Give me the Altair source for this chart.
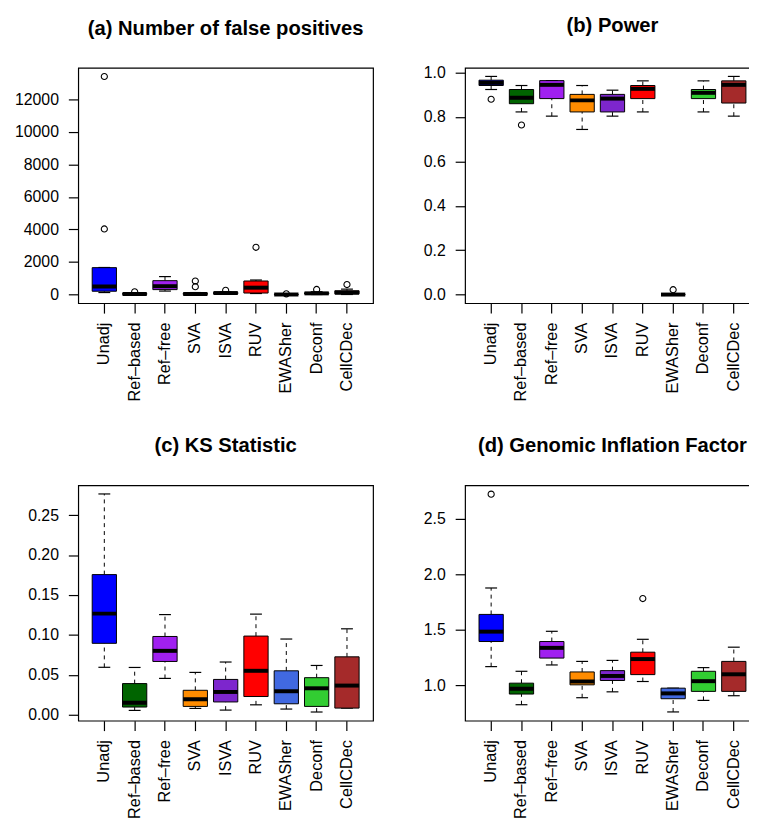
import altair as alt
import pandas as pd

methods = ["Unadj", "Ref–based", "Ref–free", "SVA", "ISVA", "RUV", "EWASher", "Deconf", "CellCDec"]
colors = ["#0000FF", "#006400", "#A020F0", "#FF8C00", "#7D26CD", "#FF0000", "#4169E1", "#32CD32", "#A52A2A"]

# (a) Number of false positives
fp_low = [120, 0, 210, 0, 40, 60, 0, 0, 0]
fp_q1 = [200, 10, 300, 10, 40, 90, 0, 30, 40]
fp_med = [490, 30, 510, 30, 90, 420, 0, 70, 110]
fp_q3 = [1650, 60, 850, 70, 130, 830, 10, 110, 230]
fp_high = [1660, 100, 1100, 120, 160, 890, 20, 170, 330]
fp_out_m = ["Unadj", "Unadj", "Ref–based", "SVA", "SVA", "ISVA", "RUV", "EWASher", "Deconf", "CellCDec"]
fp_out_v = [4030, 13400, 170, 830, 480, 260, 2900, 40, 310, 610]

# (b) Power
pw_low = [0.924, 0.823, 0.804, 0.744, 0.804, 0.823, 0.0, 0.823, 0.804]
pw_q1 = [0.942, 0.860, 0.883, 0.823, 0.823, 0.883, 0.0, 0.883, 0.863]
pw_med = [0.954, 0.887, 0.945, 0.875, 0.883, 0.927, 0.0, 0.909, 0.945]
pw_q3 = [0.966, 0.924, 0.964, 0.902, 0.902, 0.942, 0.0, 0.924, 0.963]
pw_high = [0.983, 0.942, 0.964, 0.942, 0.921, 0.963, 0.0, 0.963, 0.983]
pw_out_m = ["Unadj", "Ref–based", "EWASher"]
pw_out_v = [0.880, 0.764, 0.022]

# (c) KS Statistic
ks_low = [0.0594, 0.0054, 0.0455, 0.0079, 0.0058, 0.0124, 0.0071, 0.0034, 0.0083]
ks_q1 = [0.0894, 0.0096, 0.0667, 0.0104, 0.0160, 0.0228, 0.0137, 0.0104, 0.0083]
ks_med = [0.1266, 0.0149, 0.0800, 0.0195, 0.0285, 0.0550, 0.0294, 0.0331, 0.0365]
ks_q3 = [0.1755, 0.0390, 0.0980, 0.0306, 0.0442, 0.0985, 0.0550, 0.0464, 0.0725]
ks_high = [0.2765, 0.0592, 0.1254, 0.0530, 0.0660, 0.1260, 0.0948, 0.0617, 0.1076]
ks_out_m = []
ks_out_v = []

# (d) Genomic Inflation Factor
gif_low = [1.167, 0.824, 1.182, 0.887, 0.940, 1.033, 0.759, 0.863, 0.905]
gif_q1 = [1.393, 0.920, 1.244, 1.003, 1.042, 1.095, 0.878, 0.944, 0.944]
gif_med = [1.482, 0.967, 1.336, 1.033, 1.083, 1.235, 0.926, 1.036, 1.098]
gif_q3 = [1.637, 1.018, 1.393, 1.119, 1.131, 1.297, 0.973, 1.125, 1.214]
gif_high = [1.875, 1.125, 1.485, 1.214, 1.223, 1.413, 0.973, 1.158, 1.342]
gif_out_m = ["Unadj", "RUV"]
gif_out_v = [2.72, 1.78]

FONT = "Liberation Sans, Arial, Helvetica, sans-serif"
W, H = 298, 238


def panel(title, low, q1, med, q3, high, out_m, out_v, domain, ticks, fmt):
    df = pd.DataFrame({"method": methods, "low": low, "q1": q1, "med": med,
                       "q3": q3, "high": high})
    odf = pd.DataFrame({"method": out_m, "v": out_v})
    xs = alt.Scale(type="band", domain=methods, paddingInner=0, paddingOuter=0.36)
    ys = alt.Scale(domain=domain, nice=False, zero=False)
    xax = alt.Axis(title=None, labelAngle=-90, labelAlign="right", labelBaseline="middle")
    yax = alt.Axis(title=None, values=ticks, format=fmt, labelAngle=0)
    x = alt.X("method:N", scale=xs, axis=xax, sort=methods)
    col = alt.Color("method:N", scale=alt.Scale(domain=methods, range=colors), legend=None)
    base = alt.Chart(df)
    wl = base.mark_rule(color="black", strokeWidth=1, strokeDash=[4, 4]).encode(
        x=x, y=alt.Y("low:Q", scale=ys, axis=yax), y2="q1:Q")
    wh = base.mark_rule(color="black", strokeWidth=1, strokeDash=[4, 4]).encode(
        x=x, y=alt.Y("q3:Q", scale=ys, axis=yax), y2="high:Q")
    cl = base.mark_tick(color="black", size=12, thickness=1.2, opacity=1).encode(
        x=x, y=alt.Y("low:Q", scale=ys, axis=yax))
    ch = base.mark_tick(color="black", size=12, thickness=1.2, opacity=1).encode(
        x=x, y=alt.Y("high:Q", scale=ys, axis=yax))
    box = base.mark_bar(width=alt.RelativeBandSize(0.8), stroke="black", strokeWidth=1,
                        opacity=1).encode(
        x=x, y=alt.Y("q1:Q", scale=ys, axis=yax), y2="q3:Q", color=col)
    md = base.mark_tick(color="black", size=24.5, thickness=4, opacity=1).encode(
        x=x, y=alt.Y("med:Q", scale=ys, axis=yax))
    layers = [wl, wh, cl, ch, box, md]
    if len(out_m):
        pts = alt.Chart(odf).mark_point(shape="circle", size=38, filled=False,
                                        color="black", strokeWidth=1.1, opacity=1).encode(
            x=alt.X("method:N", scale=xs, axis=xax, sort=methods),
            y=alt.Y("v:Q", scale=ys, axis=yax))
        layers.append(pts)
    return alt.layer(*layers).properties(
        width=W, height=H,
        title=alt.TitleParams(title, frame="group", baseline="alphabetic", offset=13))


pa = panel("(a) Number of false positives", fp_low, fp_q1, fp_med, fp_q3, fp_high,
           fp_out_m, fp_out_v, [-536, 13936], [0, 2000, 4000, 6000, 8000, 10000, 12000], "d")
pb = panel("(b) Power", pw_low, pw_q1, pw_med, pw_q3, pw_high,
           pw_out_m, pw_out_v, [-0.039, 1.022], [0, 0.2, 0.4, 0.6, 0.8, 1.0], ".1f")
pc = panel("(c) KS Statistic", ks_low, ks_q1, ks_med, ks_q3, ks_high,
           ks_out_m, ks_out_v, [-0.0075, 0.2874], [0, 0.05, 0.10, 0.15, 0.20, 0.25], ".2f")
pd_ = panel("(d) Genomic Inflation Factor", gif_low, gif_q1, gif_med, gif_q3, gif_high,
            gif_out_m, gif_out_v, [0.68, 2.80], [1.0, 1.5, 2.0, 2.5], ".1f")

chart = alt.concat(pa, pb, pc, pd_, columns=2,
                   spacing=alt.RowColnumber(row=184, column=93), bounds="flush").properties(
    autosize=alt.AutoSizeParams(type="none"),
    padding={"left": 71, "top": 56, "right": 678, "bottom": 760}
).configure_view(stroke="black", strokeWidth=1.2).configure_axis(
    domain=False, grid=False, tickColor="black", tickSize=10, tickWidth=1.2,
    labelFont=FONT, labelFontSize=16, labelColor="black"
).configure_axisX(labelPadding=9, labelFontSize=16.5).configure_axisY(labelPadding=10).configure_title(
    font=FONT, fontSize=20.4, fontWeight="bold", anchor="middle", color="black"
)

chart.save("out.html", embed_options={"renderer": "svg", "actions": False})
